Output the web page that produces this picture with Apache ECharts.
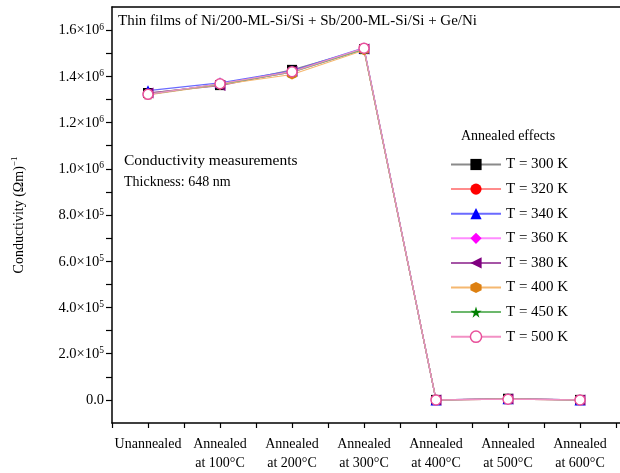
<!DOCTYPE html>
<html>
<head>
<meta charset="utf-8">
<script src="https://cdn.jsdelivr.net/npm/echarts@6/dist/echarts.min.js"></script>
<style>
  html, body { margin: 0; padding: 0; background: #fff; overflow: hidden; }
  #chart { width: 640px; height: 473px; }
</style>
</head>
<body>
<div id="chart"></div>
<script>
// Annealing stages along the x axis
const stages = [
  'Unannealed',
  'Annealed\nat 100°C',
  'Annealed\nat 200°C',
  'Annealed\nat 300°C',
  'Annealed\nat 400°C',
  'Annealed\nat 500°C',
  'Annealed\nat 600°C'
];

// Conductivity (Ωm)^-1 for each measurement temperature
const t300 = [1328000, 1362000, 1428000, 1518000, 0, 5000, 0];
const t320 = [1322000, 1366000, 1418000, 1518000, 0, 3000, 0];
const t340 = [1338000, 1372000, 1424000, 1523000, 0, 5000, 0];
const t360 = [1322000, 1366000, 1418000, 1518000, 0, 3000, 0];
const t380 = [1328000, 1360000, 1422000, 1518000, 0, 4000, 0];
const t400 = [1320000, 1364000, 1408000, 1513000, 0, 3000, 0];
const t450 = [1322000, 1366000, 1418000, 1518000, 0, 3000, 0];
const t500 = [1322000, 1368000, 1420000, 1522000, 0, 3000, 0];

// y-axis tick labels: [value, mantissa, exponent]
const yLabels = [
  [0, '0.0', ''],
  [200000, '2.0×10', '5'],
  [400000, '4.0×10', '5'],
  [600000, '6.0×10', '5'],
  [800000, '8.0×10', '5'],
  [1000000, '1.0×10', '6'],
  [1200000, '1.2×10', '6'],
  [1400000, '1.4×10', '6'],
  [1600000, '1.6×10', '6']
];
const yTicks = [0, 100000, 200000, 300000, 400000, 500000, 600000, 700000, 800000,
  900000, 1000000, 1100000, 1200000, 1300000, 1400000, 1500000, 1600000];

const FONT = '"Liberation Serif", "DejaVu Serif", serif';

const hexagon = 'path://M0,-1L0.866,-0.5L0.866,0.5L0,1L-0.866,0.5L-0.866,-0.5Z';
const star = 'path://M0,-1L0.2245,-0.309L0.951,-0.309L0.3633,0.118L0.5878,0.809L0,0.382L-0.5878,0.809L-0.3633,0.118L-0.951,-0.309L-0.2245,-0.309Z';

const seriesDefs = [
  { name: 'T = 300 K', data: t300, symbol: 'rect', color: '#000000', line: '#8a8a8a', size: 10 },
  { name: 'T = 320 K', data: t320, symbol: 'circle', color: '#ff0000', line: '#ff8c8c', size: 10 },
  { name: 'T = 340 K', data: t340, symbol: 'triangle', color: '#0000ff', line: '#6a6aff', size: 11 },
  { name: 'T = 360 K', data: t360, symbol: 'diamond', color: '#ff00ff', line: '#ff8cff', size: 11 },
  { name: 'T = 380 K', data: t380, symbol: 'triangle', rotate: 90, color: '#800080', line: '#a655a6', size: 11 },
  { name: 'T = 400 K', data: t400, symbol: hexagon, color: '#dd8011', line: '#f5b870', size: 10 },
  { name: 'T = 450 K', data: t450, symbol: star, color: '#008000', line: '#6cb86c', size: 11 },
  { name: 'T = 500 K', data: t500, symbol: 'circle', hollow: true, color: '#e8509a', line: '#f290c4', size: 10 }
];

function markerStyle(d) {
  return d.hollow
    ? { color: '#ffffff', borderColor: d.color, borderWidth: 1.5 }
    : { color: d.color };
}

const series = seriesDefs.map(function (d) {
  return {
    name: d.name,
    type: 'line',
    data: d.data.map(function (v, i) { return [i, v]; }),
    symbol: d.symbol,
    symbolSize: d.size,
    symbolRotate: d.rotate || 0,
    showAllSymbol: true,
    itemStyle: markerStyle(d),
    lineStyle: { color: d.line, width: 1.2 },
    emphasis: { disabled: true },
    animation: false
  };
});

const chart = echarts.init(document.getElementById('chart'), null, { renderer: 'canvas' });

chart.setOption({
  backgroundColor: '#ffffff',
  animation: false,
  grid: {
    left: 112, top: 7, right: 15, bottom: 50,
    show: false
  },
  xAxis: [{
    type: 'value',
    position: 'bottom',
    min: -0.5,
    max: 6.625,
    interval: 0.5,
    splitLine: { show: false },
    axisLine: { onZero: false, lineStyle: { color: '#000', width: 1.5 } },
    axisTick: { show: true, inside: false, length: 5, lineStyle: { color: '#000', width: 1.2 } },
    axisLabel: {
      color: '#000',
      fontFamily: FONT,
      fontSize: 14,
      lineHeight: 19,
      margin: 12,
      showMaxLabel: false,
      formatter: function (v) {
        if (Math.abs(v - Math.round(v)) < 1e-6 && v >= 0 && v < stages.length) {
          return stages[Math.round(v)];
        }
        return '';
      }
    }
  }, {
    // top frame line
    type: 'value',
    position: 'top',
    min: -0.5,
    max: 6.625,
    splitLine: { show: false },
    axisLine: { onZero: false, lineStyle: { color: '#000', width: 1.5 } },
    axisTick: { show: false },
    axisLabel: { show: false }
  }],
  yAxis: {
    type: 'value',
    min: -100000,
    max: 1700000,
    splitLine: { show: false },
    axisLine: { onZero: false, lineStyle: { color: '#000', width: 1.5 } },
    axisTick: {
      show: true, inside: false, length: 6,
      customValues: yTicks,
      lineStyle: { color: '#000', width: 1.2 }
    },
    axisLabel: {
      color: '#000',
      margin: 8,
      customValues: yLabels.map(function (l) { return l[0]; }),
      formatter: function (v) {
        for (let i = 0; i < yLabels.length; i++) {
          if (Math.abs(yLabels[i][0] - v) < 1) {
            return yLabels[i][2]
              ? '{b|' + yLabels[i][1] + '}{s|' + yLabels[i][2] + '}'
              : '{b|' + yLabels[i][1] + '}';
          }
        }
        return '';
      },
      rich: {
        b: { fontFamily: FONT, fontSize: 14.5, color: '#000', lineHeight: 16, verticalAlign: 'bottom' },
        s: { fontFamily: FONT, fontSize: 9.5, color: '#000', lineHeight: 16, verticalAlign: 'top', padding: [0, 0, 7, 0] }
      }
    },
    name: '{a|Conductivity (Ωm)}{s|−1}',
    nameLocation: 'middle',
    nameRotate: 90,
    nameGap: 86,
    nameTextStyle: {
      rich: {
        a: { fontFamily: FONT, fontSize: 14, color: '#000', lineHeight: 16, verticalAlign: 'bottom' },
        s: { fontFamily: FONT, fontSize: 9, color: '#000', lineHeight: 16, verticalAlign: 'top', padding: [0, 0, 7, 0] }
      }
    }
  },
  legend: {
    orient: 'vertical',
    left: 445,
    top: 152,
    itemWidth: 50,
    itemHeight: 14,
    itemGap: 9.6,
    selectedMode: false,
    textStyle: { fontFamily: FONT, fontSize: 15, color: '#000', lineHeight: 14 },
    data: seriesDefs.map(function (d) {
      return { name: d.name, itemStyle: markerStyle(d) };
    })
  },
  graphic: [
    {
      type: 'text', left: 118, top: 14,
      style: { text: 'Thin films of Ni/200-ML-Si/Si + Sb/200-ML-Si/Si + Ge/Ni', font: '15px ' + FONT, fill: '#000' }
    },
    {
      type: 'text', left: 124, top: 153,
      style: { text: 'Conductivity measurements', font: '15.5px ' + FONT, fill: '#000' }
    },
    {
      type: 'text', left: 124, top: 175,
      style: { text: 'Thickness: 648 nm', font: '14px ' + FONT, fill: '#000' }
    },
    {
      type: 'text', left: 461, top: 129,
      style: { text: 'Annealed effects', font: '14px ' + FONT, fill: '#000' }
    }
  ],
  series: series
});
</script>
</body>
</html>
